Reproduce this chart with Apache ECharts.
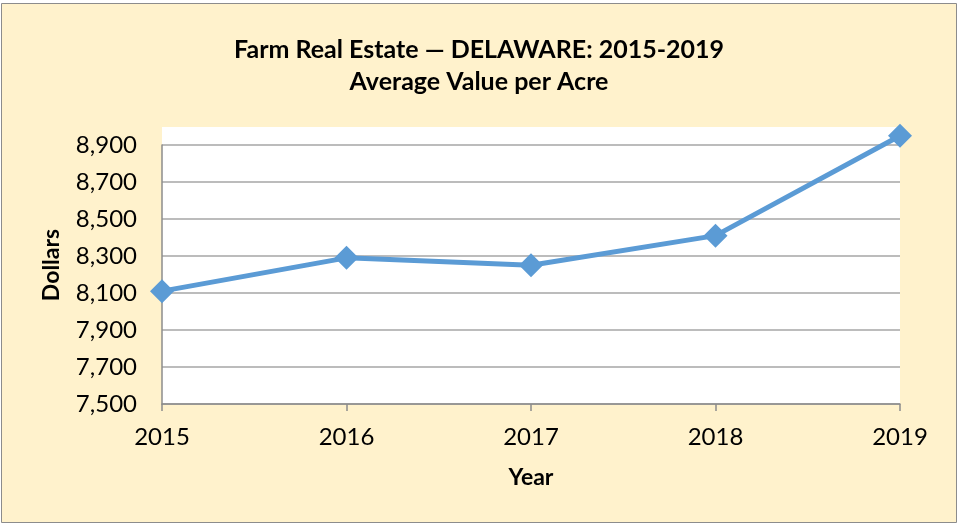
<!DOCTYPE html>
<html lang="en">
<head>
    <meta charset="UTF-8">
    <title>Farm Real Estate - Delaware</title>
    <script src="https://cdn.jsdelivr.net/npm/echarts@6/dist/echarts.min.js"></script>
    <style>
        html, body { margin: 0; padding: 0; background: #fff; }
        #main { width: 958px; height: 525px; }
    </style>
</head>
<body>
<div id="main"></div>
<script type="text/javascript">
    // data
    var years = ['2015', '2016', '2017', '2018', '2019'];
    var values = [8110, 8290, 8250, 8410, 8950];
    var yBase = 7500;      // lowest tick label
    var yStep = 200;       // tick spacing
    var yTop = 8900;       // highest tick label

    var font = 'Lato, "Open Sans", sans-serif';

    var myChart = echarts.init(document.getElementById('main'));
    // values are shifted by yBase so the ticks start at 0 (multiple of the interval)
    var shifted = values.map(function (v) { return v - yBase; });

    var option = {
        backgroundColor: '#ffffff',
        animation: false,
        title: {
            text: 'Farm Real Estate — DELAWARE: 2015-2019\nAverage Value per Acre',
            left: 'center',
            top: 29,
            textStyle: { fontFamily: font, fontWeight: 'bold', fontSize: 25, lineHeight: 32, color: '#000' }
        },
        graphic: [
            {   // cream chart area with its border
                type: 'rect', z: -10,
                shape: { x: 1.5, y: 3.5, width: 955, height: 519 },
                style: { fill: '#FFF2CC', stroke: '#8c8c8c', lineWidth: 1 }
            },
            {   // white plot area
                type: 'rect', z: -5,
                shape: { x: 162, y: 127, width: 738, height: 277 },
                style: { fill: '#ffffff' }
            },
            {
                type: 'text', z: 5,
                x: 52, y: 265, rotation: Math.PI / 2,
                style: {
                    text: 'Dollars', fontFamily: font, fontWeight: 'bold', fontSize: 23,
                    fill: '#000', align: 'center', verticalAlign: 'middle'
                }
            }
        ],
        grid: { left: 162, right: 58, top: 145, bottom: 121 },
        xAxis: {
            type: 'category',
            data: years,
            boundaryGap: false,
            name: 'Year',
            nameLocation: 'middle',
            nameGap: 62,
            nameTextStyle: { fontFamily: font, fontWeight: 'bold', fontSize: 23, color: '#000' },
            axisLine: { lineStyle: { color: '#8c8c8c', width: 1.5 } },
            axisTick: { show: true, length: 7, lineStyle: { color: '#8c8c8c', width: 1.5 } },
            axisLabel: { fontFamily: font, fontSize: 24, color: '#000', margin: 21 },
            splitLine: { show: false }
        },
        yAxis: {
            type: 'value',
            min: 0,
            max: yTop - yBase,
            interval: yStep,
            axisLine: { show: true, lineStyle: { color: '#8c8c8c', width: 1.5 } },
            axisTick: { show: false },
            axisLabel: {
                fontFamily: font, fontSize: 24, color: '#000', margin: 25,
                formatter: function (v) { return (v + yBase).toLocaleString('en-US'); }
            },
            splitLine: { lineStyle: { color: '#a6a6a6', width: 1.5 } }
        },
        series: [{
            type: 'line',
            data: shifted,
            clip: false,
            symbol: 'diamond',
            symbolSize: 24,
            itemStyle: { color: '#5B9BD5' },
            lineStyle: { color: '#5B9BD5', width: 5 }
        }]
    };
    myChart.setOption(option);
</script>
</body>
</html>
